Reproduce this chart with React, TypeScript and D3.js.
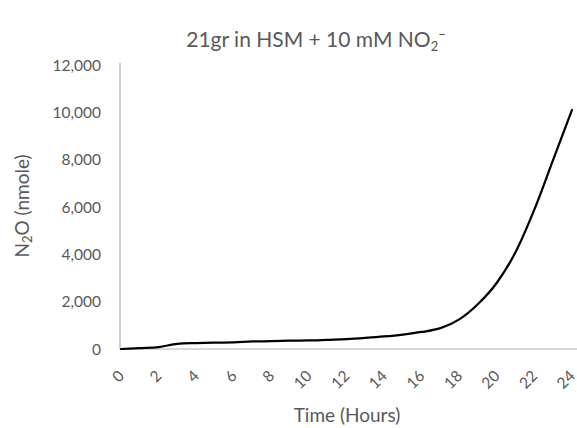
import React from "react";
import * as d3 from "d3";

// N2O accumulation over time (hourly readings)
const hours = [0, 1, 2, 3, 4, 5, 6, 7, 8, 9, 10, 11, 12, 13, 14, 15, 16, 17, 18, 19, 20, 21, 22, 23, 24];
const n2o = [0, 40, 80, 220, 250, 270, 280, 320, 330, 350, 360, 390, 420, 470, 530, 610, 720, 880, 1250, 1900, 2800, 4100, 5900, 8000, 10100];
const yTicks = [0, 2000, 4000, 6000, 8000, 10000, 12000];
const xTicks = [0, 2, 4, 6, 8, 10, 12, 14, 16, 18, 20, 22, 24];

const W = 577;
const H = 428;
const left = 121;
const right = 572;
const top = 65;
const bottom = 349;
const FONT = "Lato, 'Open Sans', sans-serif";
const TEXT = "#595959";

export default function App() {
  const x = d3.scaleLinear().domain([0, 24]).range([left, right]);
  const y = d3.scaleLinear().domain([0, 12000]).range([bottom, top]);
  const fmt = d3.format(",");

  const line = d3
    .line<number>()
    .x((_, i) => x(hours[i]))
    .y((d) => y(d))
    .curve(d3.curveMonotoneX);

  return (
    <svg
      width={W}
      height={H}
      style={{ position: "absolute", left: 0, top: 0, background: "#fff" }}
      fontFamily={FONT}
    >
      <rect x={0} y={0} width={W} height={H} fill="#fff" />
      {/* title */}
      <text x={316} y={47} textAnchor="middle" fontSize={21} fill={TEXT}>
        21gr in HSM + 10 mM NO
        <tspan fontSize={13} dy={4}>2</tspan>
        <tspan fontSize={13} dy={-12}>−</tspan>
      </text>

      {/* axes */}
      <line x1={left - 1} x2={left - 1} y1={top - 2} y2={bottom} stroke="#BFBFBF" strokeWidth={1.5} />
      <line x1={left - 1} x2={W} y1={bottom} y2={bottom} stroke="#CCCCCC" strokeWidth={1.5} />

      {/* y tick labels */}
      {yTicks.map((t) => (
        <text key={t} x={101} y={y(t) + 5.5} textAnchor="end" fontSize={15.5} fill={TEXT}>
          {fmt(t)}
        </text>
      ))}

      {/* x tick labels */}
      {xTicks.map((t) => (
        <text
          key={t}
          transform={`translate(${x(t) + 4},${bottom + 28}) rotate(-45)`}
          textAnchor="end"
          fontSize={15.5}
          fill={TEXT}
        >
          {t}
        </text>
      ))}

      {/* axis titles */}
      <text x={347} y={422} textAnchor="middle" fontSize={19} fill={TEXT}>
        Time (Hours)
      </text>
      <text transform={`translate(29,${206}) rotate(-90)`} textAnchor="middle" fontSize={19} fill={TEXT}>
        N<tspan fontSize={13} dy={3}>2</tspan>
        <tspan dy={-3}>O (nmole)</tspan>
      </text>

      {/* series */}
      <path d={line(n2o) || ""} fill="none" stroke="#000" strokeWidth={2.25} strokeLinejoin="round" strokeLinecap="round" />
    </svg>
  );
}
